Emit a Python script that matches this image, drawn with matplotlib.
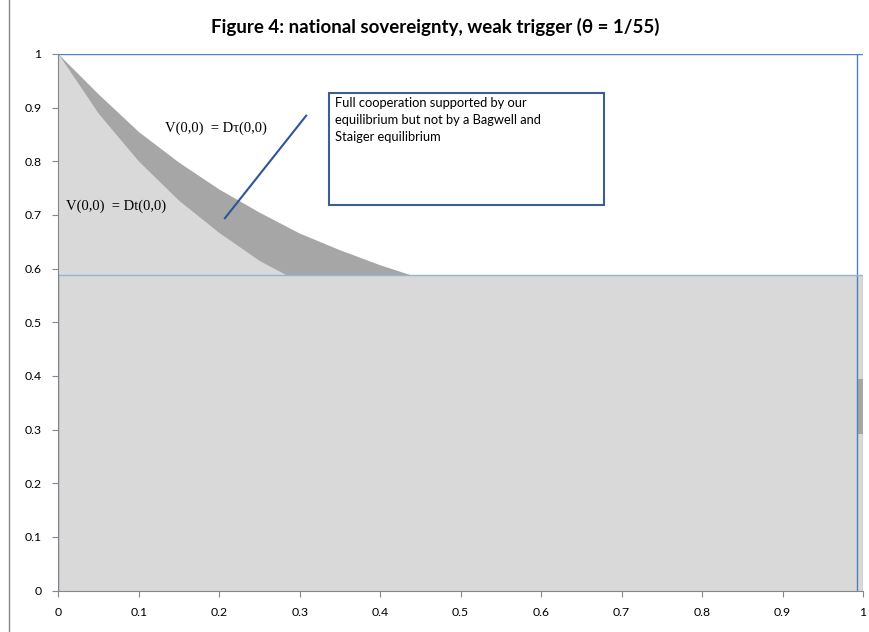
import numpy as np
import matplotlib.pyplot as plt
from matplotlib.patches import Rectangle

# Curves
x_tau = [0.0, 0.05, 0.10, 0.15, 0.20, 0.25, 0.30, 0.35, 0.40, 0.439]
v_tau = [1.0, 0.925, 0.855, 0.798, 0.748, 0.705, 0.666, 0.635, 0.607, 0.588]
x_t = [0.0, 0.05, 0.10, 0.15, 0.20, 0.25, 0.284]
v_t = [1.0, 0.889, 0.800, 0.727, 0.667, 0.615, 0.588]

floor_level = 0.588       # flat part of the region
right_edge = 0.993        # vertical boundary near x = 1
right_band = [0.292, 0.394]  # small dark strip at the right edge

ticks = [0, 0.1, 0.2, 0.3, 0.4, 0.5, 0.6, 0.7, 0.8, 0.9, 1]
tick_labels = ['0', '0.1', '0.2', '0.3', '0.4', '0.5', '0.6', '0.7', '0.8', '0.9', '1']

light = '#d9d9d9'
dark = '#a6a6a6'
blue = '#4f81bd'

plt.rcParams['font.family'] = ['Lato', 'DejaVu Sans']

fig = plt.figure(figsize=(8.7, 6.32), dpi=100)
ax = fig.add_axes([0.067, 0.0654, 0.925, 0.8492])

# dark band between the two curves, light region below
ax.fill_between(x_tau, floor_level, v_tau, color=dark, lw=0)
ax.fill_between(x_t, floor_level, v_t, color=light, lw=0)
ax.add_patch(Rectangle((0, 0), 1, floor_level, color=light, lw=0))
ax.add_patch(Rectangle((right_edge, right_band[0]), 1 - right_edge,
                       right_band[1] - right_band[0], color=dark, lw=0))

# outline lines
ax.plot([0, 1], [1, 1], color=blue, lw=1)
ax.plot([right_edge, right_edge], [0, 1], color=blue, lw=1)
ax.plot([1, 1], [0, floor_level], color='#95b3d7', lw=1)
ax.plot([0, 1], [floor_level, floor_level], color='#95b3d7', lw=1)
ax.plot([0, 0], [0, floor_level], color=blue, lw=1)

ax.set_xlim(0, 1)
ax.set_ylim(0, 1)
ax.set_xticks(ticks)
ax.set_xticklabels(tick_labels)
ax.set_yticks(ticks)
ax.set_yticklabels(tick_labels)
ax.tick_params(labelsize=8.8, length=4, color='#868686', pad=8)
for s in ['top', 'right']:
    ax.spines[s].set_visible(False)
for s in ['left', 'bottom']:
    ax.spines[s].set_color('#868686')

fig.text(0.5, 0.958, 'Figure 4: national sovereignty, weak trigger (θ = 1/55)',
         ha='center', va='center', fontsize=13.5, fontweight='bold')

serif = ['Liberation Serif', 'DejaVu Serif']
ax.text(0.196, 0.862, 'V(0,0)  = Dτ(0,0)', family=serif, fontsize=10.5,
        ha='center', va='center')
ax.text(0.072, 0.717, 'V(0,0)  = Dt(0,0)', family=serif, fontsize=10.5,
        ha='center', va='center')

ax.plot([0.207, 0.308], [0.694, 0.885], color='#2f5597', lw=1.5)

box = Rectangle((0.337, 0.718), 0.341, 0.209, transform=ax.transData,
                fill=False, edgecolor='#3b5f93', lw=1.5)
ax.add_patch(box)
ax.text(0.344, 0.919, 'Full cooperation supported by our\n'
        'equilibrium but not by a Bagwell and\nStaiger equilibrium',
        fontsize=9.3, ha='left', va='top', linespacing=1.5)

# outer chart border
fig.add_artist(Rectangle((0.0107, -0.01), 0.99, 1.2, transform=fig.transFigure,
                         fill=False, edgecolor='#868686', lw=1))

fig.savefig('out.png', dpi=100)
